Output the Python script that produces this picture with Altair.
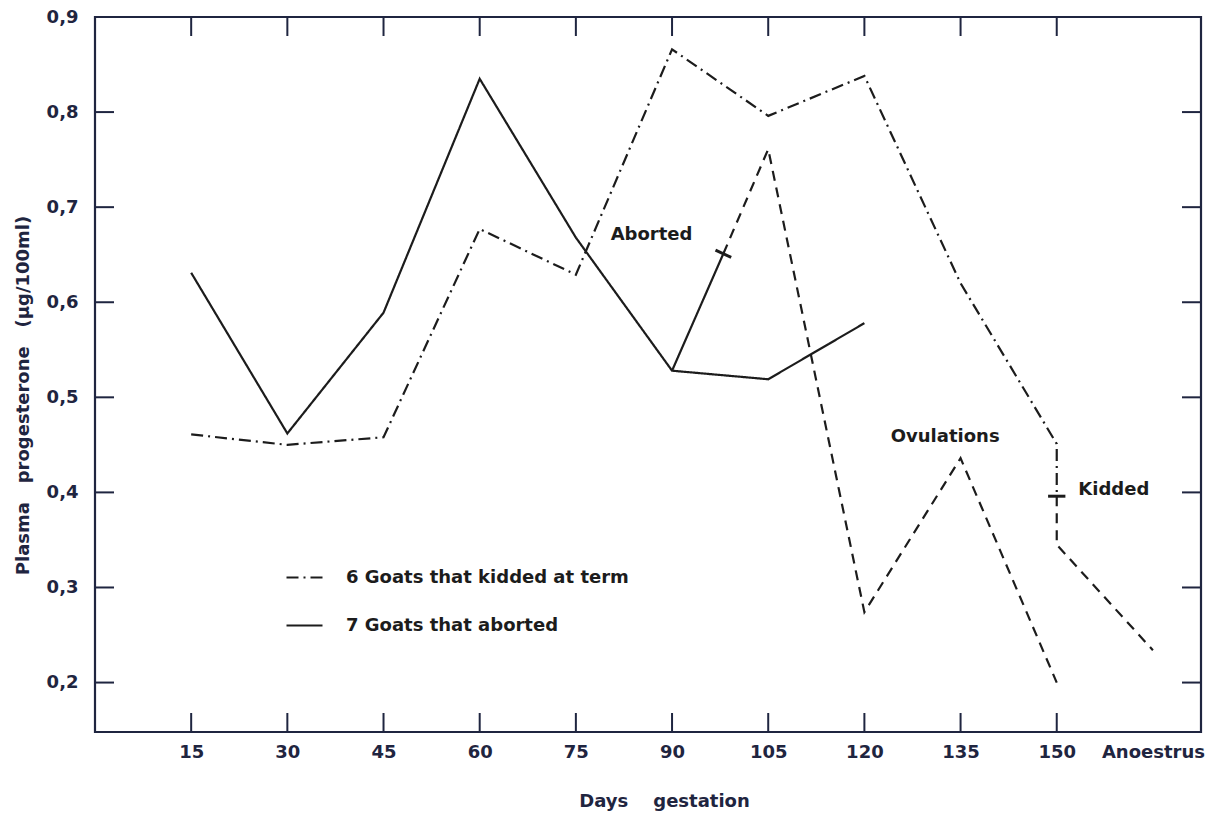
import altair as alt
import pandas as pd

# Sampling days of gestation, plus the anoestrus sample after kidding
DAYS = [15, 30, 45, 60, 75, 90, 105, 120, 135, 150]
ANOESTRUS_DAY = 165

# Mean plasma progesterone (µg/100 ml)
KIDDED = [0.461, 0.450, 0.458, 0.677, 0.629, 0.866, 0.796, 0.838, 0.620, 0.451]
ABORTED_DAYS = [15, 30, 45, 60, 75, 90, 105, 120]
ABORTED = [0.631, 0.462, 0.589, 0.835, 0.668, 0.528, 0.519, 0.578]

# Goats that aborted after day 90: abortion point and later samples
ABORTION_DAY = 98
ABORTION_LEVEL = 0.651
POST_ABORT_DAYS = [105, 120, 135, 150]
POST_ABORT = [0.761, 0.274, 0.436, 0.200]

# Kidding at term, then day 150 and anoestrus samples
KIDDING_LEVEL = 0.396
POST_KIDDING_DAYS = [150, ANOESTRUS_DAY]
POST_KIDDING = [0.345, 0.234]

Y_TICKS = [0.2, 0.3, 0.4, 0.5, 0.6, 0.7, 0.8, 0.9]
INNER_Y_TICKS = [0.2, 0.3, 0.4, 0.5, 0.6, 0.7, 0.8]

NOTES = ["Aborted", "Ovulations", "Kidded"]
NOTE_DAYS = [86.8, 132.6, 158.9]
NOTE_LEVELS = [0.671, 0.458, 0.402]

LEGEND_KIDDED = "6 Goats that kidded at term"
LEGEND_ABORTED = "7 Goats that aborted"

NB = "\u00a0"
X_TITLE = f"Days{NB * 4}gestation"
Y_TITLE = f"Plasma{NB * 3}progesterone{NB * 3}(µg/100ml)"

W, H = 1106, 715
INK = "#1c1c1c"
AX = "#1f2540"
FONT = "DejaVu Sans"
FS = 18

# ---- assemble line segments ----
rows = []


def add(segment, group, days, levels):
    for i, (d, v) in enumerate(zip(days, levels)):
        rows.append({"segment": segment, "group": group, "day": d,
                     "level": v, "step": i})


add("kidded", LEGEND_KIDDED, DAYS + [150], KIDDED + [KIDDING_LEVEL])
add("aborted", LEGEND_ABORTED, ABORTED_DAYS, ABORTED)
add("aborted_branch", LEGEND_ABORTED, [90, ABORTION_DAY],
    [ABORTED[ABORTED_DAYS.index(90)], ABORTION_LEVEL])
lines = pd.DataFrame(rows)

rows = []
add("after_abortion", "", [ABORTION_DAY] + POST_ABORT_DAYS,
    [ABORTION_LEVEL] + POST_ABORT)
add("after_kidding", "", [150] + POST_KIDDING_DAYS,
    [KIDDING_LEVEL] + POST_KIDDING)
dashed = pd.DataFrame(rows)

x_scale = alt.Scale(domain=[0, 172.5], nice=False, zero=False)
y_scale = alt.Scale(domain=[0.148, 0.9], nice=False, zero=False)

x_axis = alt.Axis(
    values=DAYS + [ANOESTRUS_DAY],
    labelExpr=f"datum.value == {ANOESTRUS_DAY} ? 'Anoestrus' : datum.label",
    ticks=False, domain=False, grid=False,
    labelFont=FONT, labelFontSize=FS, labelFontWeight="bold", labelColor=AX,
    labelPadding=11, labelFlush=False, labelOverlap=False,
    title=X_TITLE, titleFont=FONT, titleFontSize=FS,
    titleFontWeight="bold", titleColor=AX, titlePadding=31, titleX=569,
)
y_axis = alt.Axis(
    values=Y_TICKS,
    labelExpr="replace(format(datum.value, '.1f'), '.', ',')",
    ticks=False, domain=False, grid=False,
    labelFont=FONT, labelFontSize=FS, labelFontWeight="bold", labelColor=AX,
    labelPadding=17, labelFlush=False, labelOverlap=False,
    title=Y_TITLE, titleFont=FONT,
    titleFontSize=FS, titleFontWeight="bold", titleColor=AX,
    titlePadding=14, titleY=378,
)


def xq():
    return alt.X("day:Q", scale=x_scale)


def yq():
    return alt.Y("level:Q", scale=y_scale)


main = alt.Chart(lines).mark_line(strokeWidth=2.2, color=INK).encode(
    x=alt.X("day:Q", scale=x_scale, axis=x_axis),
    y=alt.Y("level:Q", scale=y_scale, axis=y_axis),
    detail="segment:N",
    order="step:Q",
    strokeDash=alt.StrokeDash(
        "group:N",
        scale=alt.Scale(domain=[LEGEND_KIDDED, LEGEND_ABORTED],
                        range=[[12, 5, 2, 5], [1, 0]]),
        legend=alt.Legend(
            title=None, orient="none", legendX=190, legendY=541,
            symbolType="stroke", symbolSize=1296, symbolStrokeWidth=2.2,
            symbolStrokeColor=INK, labelFont=FONT, labelFontSize=FS,
            labelFontWeight="bold", labelColor=INK, labelOffset=22,
            labelLimit=0, rowPadding=19,
        ),
    ),
)

after = alt.Chart(dashed).mark_line(
    strokeWidth=2.2, color=INK, strokeDash=[10, 7]
).encode(x=xq(), y=yq(), detail="segment:N", order="step:Q")

events = pd.DataFrame({
    "day": [ABORTION_DAY, 150],
    "level": [ABORTION_LEVEL, KIDDING_LEVEL],
    "tilt": [25, 0],
})
crosses = alt.Chart(events).mark_point(
    shape="M -1 0 L 1 0", size=300, filled=False, strokeWidth=3,
    color=INK, opacity=1,
).encode(x=xq(), y=yq(), angle=alt.Angle("tilt:Q", scale=None))

notes = alt.Chart(pd.DataFrame({
    "note": NOTES, "day": NOTE_DAYS, "level": NOTE_LEVELS,
})).mark_text(font=FONT, fontSize=FS, fontWeight="bold", color=INK).encode(
    x=xq(), y=yq(), text="note:N",
)

# inward tick marks on all four sides of the frame
xt = pd.DataFrame({"day": DAYS})
yt = pd.DataFrame({"level": INNER_Y_TICKS})
tick_style = dict(size=19, thickness=2, color=AX, opacity=1)
bottom_ticks = alt.Chart(xt).mark_tick(orient="vertical", **tick_style).encode(
    x=xq(), y=alt.value(H - 9.5))
top_ticks = alt.Chart(xt).mark_tick(orient="vertical", **tick_style).encode(
    x=xq(), y=alt.value(9.5))
left_ticks = alt.Chart(yt).mark_tick(orient="horizontal", **tick_style).encode(
    y=yq(), x=alt.value(9.5))
right_ticks = alt.Chart(yt).mark_tick(orient="horizontal", **tick_style).encode(
    y=yq(), x=alt.value(W - 9.5))

chart = alt.layer(
    main, after, crosses, notes,
    bottom_ticks, top_ticks, left_ticks, right_ticks,
).properties(
    width=W, height=H,
    autosize=alt.AutoSizeParams(type="none"),
    padding={"left": 95, "top": 17, "right": 22, "bottom": 85},
    background="white",
).configure_view(stroke=AX, strokeWidth=2.2)

chart.save("out.html", embed_options={"renderer": "svg", "actions": False})
